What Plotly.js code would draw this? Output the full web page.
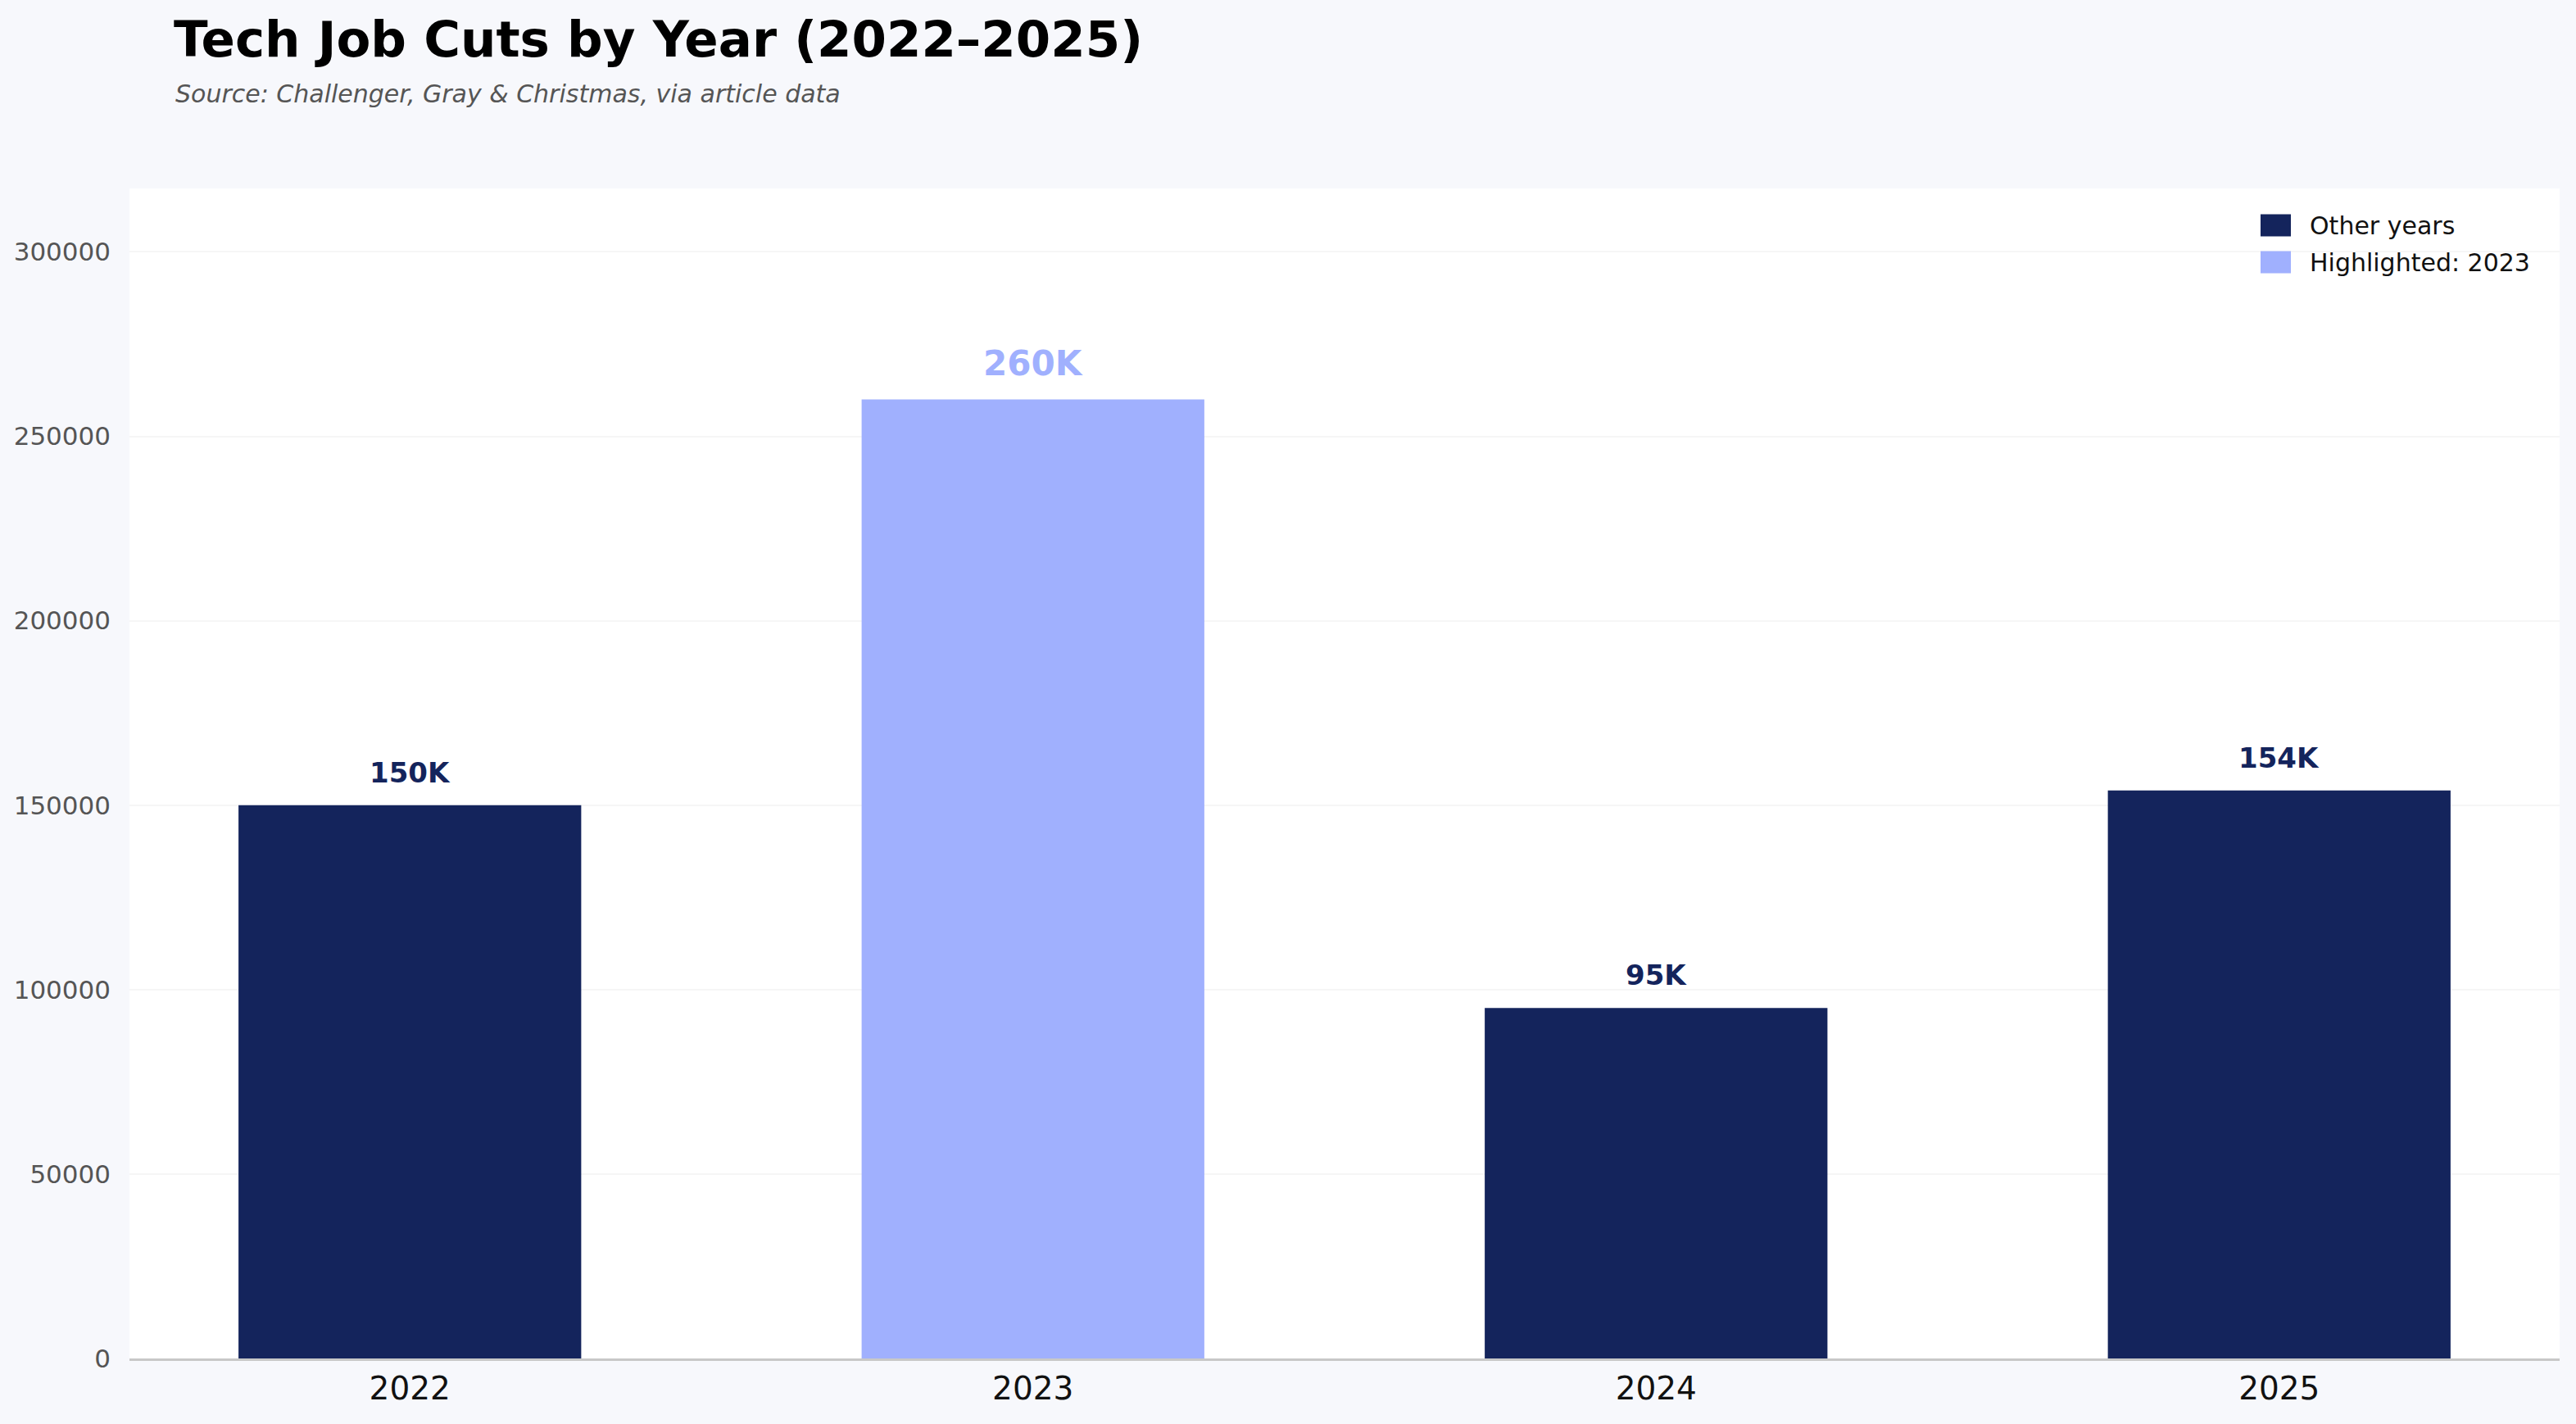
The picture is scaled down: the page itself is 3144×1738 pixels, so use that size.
<!DOCTYPE html>
<html>
<head>
<meta charset="utf-8">
<script src="https://cdn.plot.ly/plotly-3.0.1.min.js"></script>
<style>
  html, body { margin: 0; padding: 0; background: #f7f8fc; }
  #chart { width: 3144px; height: 1738px; }
</style>
</head>
<body>
<div id="chart"></div>
<script>
  // values
  const years = ["2022", "2023", "2024", "2025"];
  const jobCuts = [150000, 260000, 95000, 154000];
  const valueLabels = ["150K", "260K", "95K", "154K"];
  const highlightYear = "2023";
  const yTicks = [0, 50000, 100000, 150000, 200000, 250000, 300000];
  const legendNames = ["Other years", "Highlighted: " + highlightYear];

  const NAVY = "#14245c";
  const LIGHT = "#a0b0fe";
  const FONT = "DejaVu Sans, sans-serif";

  // plot box in pixels, used to place the hand-made legend in paper units
  const PL = 158, PR = 3124, PT = 230, PB = 1658;
  const px = (v) => (v - PL) / (PR - PL);
  const py = (v) => (PB - v) / (PB - PT);

  const otherIdx = years.map((y, i) => i).filter((i) => years[i] !== highlightYear);
  const hiIdx = years.map((y, i) => i).filter((i) => years[i] === highlightYear);

  const traces = [
    {
      type: "bar",
      name: legendNames[0],
      x: otherIdx.map((i) => years[i]),
      y: otherIdx.map((i) => jobCuts[i]),
      width: 0.55,
      marker: { color: NAVY },
      hoverinfo: "skip",
    },
    {
      type: "bar",
      name: legendNames[1],
      x: hiIdx.map((i) => years[i]),
      y: hiIdx.map((i) => jobCuts[i]),
      width: 0.55,
      marker: { color: LIGHT },
      hoverinfo: "skip",
    },
  ];

  // value labels above bars (category axis -> annotation x is the index)
  const annotations = years.map((year, i) => {
    const hi = year === highlightYear;
    return {
      x: i,
      y: jobCuts[i],
      xref: "x",
      yref: "y",
      text: "<b>" + valueLabels[i] + "</b>",
      showarrow: false,
      yanchor: "bottom",
      yshift: 18,
      font: { family: FONT, size: hi ? 42 : 34, color: hi ? LIGHT : NAVY },
    };
  });

  annotations.push({
    xref: "paper",
    yref: "paper",
    x: px(212),
    y: py(114),
    xanchor: "left",
    yanchor: "middle",
    showarrow: false,
    text: "<i>Source: Challenger, Gray &amp; Christmas, via article data</i>",
    font: { family: FONT, size: 30, color: "#555555" },
  });

  // legend, drawn like the reference (large swatches)
  const shapes = [];
  [NAVY, LIGHT].forEach((color, k) => {
    const cy = 275 + k * 45;
    shapes.push({
      type: "rect",
      xref: "paper",
      yref: "paper",
      x0: px(2759),
      x1: px(2796),
      y0: py(cy + 13.5),
      y1: py(cy - 13.5),
      fillcolor: color,
      line: { width: 0 },
    });
    annotations.push({
      xref: "paper",
      yref: "paper",
      x: px(2817),
      y: py(cy),
      xanchor: "left",
      yanchor: "middle",
      showarrow: false,
      text: legendNames[k],
      font: { family: FONT, size: 30, color: "#111111" },
    });
  });

  const layout = {
    width: 3144,
    height: 1738,
    paper_bgcolor: "#f7f8fc",
    plot_bgcolor: "#ffffff",
    margin: { l: PL, r: 3144 - PR, t: PT, b: 1738 - PB },
    barmode: "overlay",
    font: { family: FONT, color: "#000000" },
    title: {
      text: "<b>Tech Job Cuts by Year (2022–2025)</b>",
      xref: "container",
      yref: "container",
      x: 212 / 3144,
      xanchor: "left",
      y: 1 - 48 / 1738,
      yanchor: "middle",
      font: { family: FONT, size: 61, color: "#000000" },
    },
    xaxis: {
      type: "category",
      categoryorder: "array",
      categoryarray: years,
      range: [-0.45, 3.45],
      showgrid: false,
      showline: true,
      linecolor: "#c8c8c8",
      linewidth: 3,
      ticks: "",
      tickfont: { family: FONT, size: 39, color: "#111111" },
      zeroline: false,
    },
    yaxis: {
      range: [0, 317200],
      tickvals: yTicks,
      ticktext: yTicks.map((v) => String(v)),
      showgrid: true,
      gridcolor: "#f6f6f6",
      gridwidth: 2,
      zeroline: false,
      showline: false,
      ticks: "",
      ticklabelstandoff: 22,
      tickfont: { family: FONT, size: 31, color: "#555555" },
    },
    showlegend: false,
    shapes: shapes,
    annotations: annotations,
  };

  Plotly.newPlot("chart", traces, layout, { displayModeBar: false, staticPlot: true });
</script>
</body>
</html>
